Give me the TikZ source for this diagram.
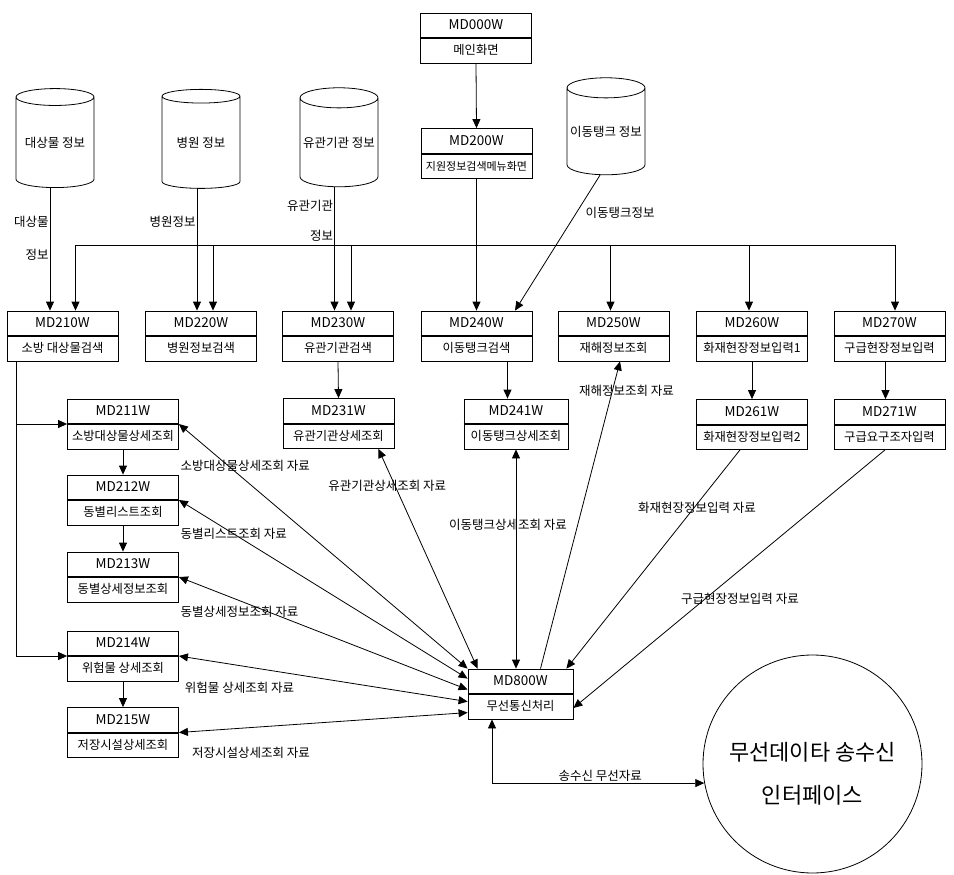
\documentclass[tikz,border=0pt]{standalone}
\usepackage{fontspec}
\setmainfont{Noto Sans CJK KR}
\usetikzlibrary{arrows.meta,shapes.geometric}
\newcommand{\wcode}[1]{{\fontsize{13.5}{25}\selectfont #1}}

\begin{document}
\begin{tikzpicture}[x=1pt,y=-1pt,line width=0.8pt,
  winbox/.style={draw,fill=white,minimum width=111pt,minimum height=50pt,
                 inner sep=0pt,align=center,font=\fontsize{12.3}{25}\selectfont,
                 append after command={(\tikzlastnode.west) edge[line width=2pt]
                 (\tikzlastnode.east)}},
  store/.style={draw,cylinder,shape border rotate=90,aspect=0.28,
                minimum width=78pt,minimum height=99pt,inner sep=0pt,
                font=\fontsize{12.5}{15}\selectfont},
  iface/.style={draw,ellipse,minimum width=219pt,minimum height=218pt,
                inner xsep=-20pt,inner ysep=0pt,align=center,
                font=\fontsize{22}{43}\selectfont},
  lbl/.style={font=\fontsize{12.5}{15}\selectfont,inner sep=1pt},
  arrow/.style={-{Triangle[length=9pt,width=8pt]}},
  both/.style={{Triangle[length=9pt,width=8pt]}-{Triangle[length=9pt,width=8pt]}}
]
\useasboundingbox (0,0) rectangle (954,875);

% Menu screens at the top.
\node[winbox] (md000) at (476,38) {\wcode{MD000W}\\메인화면};
\node[winbox] (md200) at (476.5,153.5)
  {\wcode{MD200W}\\{\fontsize{11}{25}\selectfont 지원정보검색메뉴화면}};

% Data stores.
\node[store] (target) at (55,142.5) {대상물 정보};
\node[store] (hospital) at (201,142.5) {병원 정보};
\node[store] (agency) at (339,142.5) {유관기관 정보};
\node[store,minimum height=97pt] (tank) at (606,131.5) {이동탱크 정보};

% Search and input screens.
\node[winbox] (md210) at (62.5,336) {\wcode{MD210W}\\소방 대상물검색};
\node[winbox] (md220) at (201,336) {\wcode{MD220W}\\병원정보검색};
\node[winbox] (md230) at (338,336) {\wcode{MD230W}\\유관기관검색};
\node[winbox] (md240) at (476.5,336) {\wcode{MD240W}\\이동탱크검색};
\node[winbox] (md250) at (613.5,336) {\wcode{MD250W}\\재해정보조회};
\node[winbox] (md260) at (752,336) {\wcode{MD260W}\\화재현장정보입력1};
\node[winbox] (md270) at (889.5,336) {\wcode{MD270W}\\구급현장정보입력};

% Detail screens.
\node[winbox] (md211) at (123,424) {\wcode{MD211W}\\소방대상물상세조회};
\node[winbox] (md212) at (123,500) {\wcode{MD212W}\\동별리스트조회};
\node[winbox] (md213) at (123,577) {\wcode{MD213W}\\동별상세정보조회};
\node[winbox] (md214) at (123,656) {\wcode{MD214W}\\위험물 상세조회};
\node[winbox] (md215) at (123,732.5) {\wcode{MD215W}\\저장시설상세조회};
\node[winbox] (md231) at (338.5,423.5) {\wcode{MD231W}\\유관기관상세조회};
\node[winbox,minimum width=104pt] (md241) at (516,424) {\wcode{MD241W}\\이동탱크상세조회};
\node[winbox] (md261) at (752,424.5) {\wcode{MD261W}\\화재현장정보입력2};
\node[winbox] (md271) at (889.5,424.5) {\wcode{MD271W}\\구급요구조자입력};

% Radio processing and the external interface.
\node[winbox,minimum width=105pt] (md800) at (520.5,694) {\wcode{MD800W}\\무선통신처리};
\node[iface] (radio) at (812.5,764) {\rule{0pt}{38pt}무선데이타 송수신\\인터페이스};

% Menu path and store inputs.
\draw[arrow] (md000.south) -- (md200.north);
\draw[arrow] (md200.south) -- (md240.north);
\draw[arrow] ([xshift=-12.5pt]md210.north |- target.south) --
  node[lbl,pos=0.41,left,align=right]{대상물\\[18pt]정보} ([xshift=-12.5pt]md210.north);
\draw[arrow] ([xshift=-4pt]md220.north |- hospital.south) --
  node[lbl,pos=0.27,left]{병원정보} ([xshift=-4pt]md220.north);
\draw[arrow] ([xshift=-3.5pt]md230.north |- agency.south) --
  node[lbl,pos=0.27,left,align=right]{유관기관\\[15pt]정보} ([xshift=-3.5pt]md230.north);
\draw[arrow] ([xshift=-6pt]tank.south) --
  node[lbl,pos=0.28,right=8pt]{이동탱크정보} ([xshift=38.5pt]md240.north);

% Menu bus.
\coordinate (busl) at (75.5,245);
\coordinate (busr) at (895,245);
\draw (busl) -- (busr);
\draw[arrow] (busl) -- (busl |- md210.north);
\draw[arrow] ([xshift=12pt]md220.north |- busl) -- ([xshift=12pt]md220.north);
\draw[arrow] ([xshift=13pt]md230.north |- busl) -- ([xshift=13pt]md230.north);
\draw[arrow] ([xshift=-3pt]md250.north |- busl) -- ([xshift=-3pt]md250.north);
\draw[arrow] ([xshift=-3pt]md260.north |- busl) -- ([xshift=-3pt]md260.north);
\draw[arrow] (busr) -- (busr |- md270.north);

% Screen flow.
\draw[arrow] ([xshift=10pt]md210.south west) |- (md211.west);
\draw[arrow] ([xshift=10pt]md210.south west) |- (md214.west);
\draw[arrow] (md211.south) -- (md212.north);
\draw[arrow] (md212.south) -- (md213.north);
\draw[arrow] (md214.south) -- (md215.north);
\draw[arrow] (md230.south) -- (md231.north);
\draw[arrow] ([xshift=31pt]md240.south) -- ([xshift=-8.5pt]md241.north);
\draw[arrow] (md260.south) -- (md261.north);
\draw[arrow] ([xshift=-4pt]md270.south) -- ([xshift=-4pt]md271.north);

% Data exchanged with the radio process.
\draw[both] (md211.east) --
  node[lbl,pos=0.23,yshift=14pt]{소방대상물상세조회 자료} (md800.north west);
\draw[both] (md212.east) --
  node[lbl,pos=0.19]{동별리스트조회 자료} ([yshift=-10pt]md800.north west);
\draw[both] (md213.east) --
  node[lbl,pos=0.21,yshift=-11pt]{동별상세정보조회 자료} ([yshift=-21pt]md800.north west);
\draw[both] (md214.east) --
  node[lbl,pos=0.21,yshift=-22pt]{위험물 상세조회 자료} ([yshift=-33pt]md800.north west);
\draw[both] (md215.east) --
  node[lbl,pos=0.25,yshift=-25pt]{저장시설상세조회 자료} ([yshift=-44pt]md800.north west);
\draw[both] ([xshift=-16pt]md231.south east) --
  node[lbl,pos=0.17,xshift=-8pt]{유관기관상세조회 자료} ([xshift=10pt]md800.north west);
\draw[both] (md241.south) --
  node[lbl,pos=0.345,xshift=-8pt]{이동탱크상세조회 자료} (md241.south |- md800.north);
\draw[arrow] ([xshift=20pt]md800.north) --
  node[lbl,pos=0.905,xshift=14pt]{재해정보조회 자료} ([xshift=6.5pt]md250.south);
\draw[arrow] ([xshift=-12pt]md261.south) --
  node[lbl,pos=0.265,xshift=3pt]{화재현장정보입력 자료} ([xshift=-7pt]md800.north east);
\draw[arrow] ([xshift=-4.5pt]md271.south) --
  node[lbl,pos=0.578,xshift=35pt]{구급현장정보입력 자료} ([yshift=-14pt]md800.east);
\draw[both] ([xshift=-28.5pt]md800.south) |-
  node[lbl,pos=0.755,above]{송수신 무선자료} (radio.190);
\end{tikzpicture}
\end{document}
